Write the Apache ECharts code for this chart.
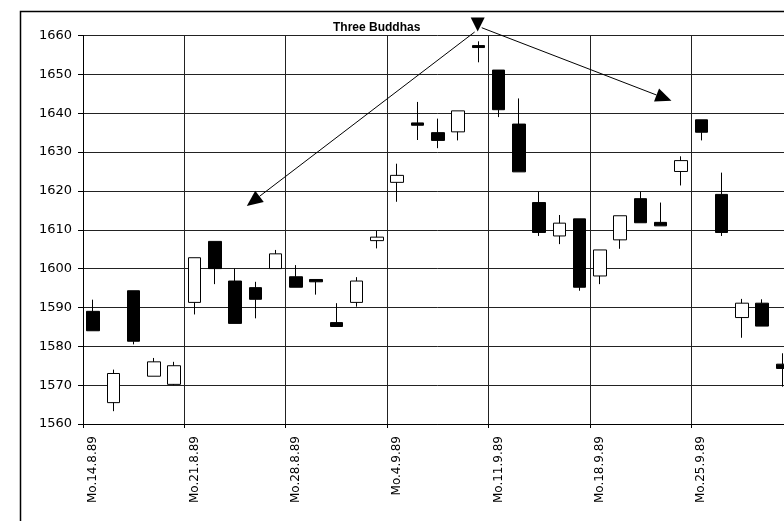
<!DOCTYPE html>
<html>
<head>
<meta charset="utf-8">
<script src="https://cdn.jsdelivr.net/npm/echarts@6/dist/echarts.min.js"></script>
<style>
html,body{margin:0;padding:0;background:#fff;overflow:hidden;width:784px;height:521px;}
#chart{width:800px;height:521px;}
</style>
</head>
<body>
<div id="chart"></div>
<script>
// Trading days (Mon–Fri), 14.8.89 – 29.9.89
const categories = [
  'Mo.14.8.89','Di.15.8.89','Mi.16.8.89','Do.17.8.89','Fr.18.8.89',
  'Mo.21.8.89','Di.22.8.89','Mi.23.8.89','Do.24.8.89','Fr.25.8.89',
  'Mo.28.8.89','Di.29.8.89','Mi.30.8.89','Do.31.8.89','Fr.1.9.89',
  'Mo.4.9.89','Di.5.9.89','Mi.6.9.89','Do.7.9.89','Fr.8.9.89',
  'Mo.11.9.89','Di.12.9.89','Mi.13.9.89','Do.14.9.89','Fr.15.9.89',
  'Mo.18.9.89','Di.19.9.89','Mi.20.9.89','Do.21.9.89','Fr.22.9.89',
  'Mo.25.9.89','Di.26.9.89','Mi.27.9.89','Do.28.9.89','Fr.29.9.89'
];
const opens  = [1589,1565.5,1594.3,1572.3,1570.2, 1591.3,1607,1596.8,1595.1,1600, 1597.9,1597.2,1586.1,1591.3,1607.2, 1622.2,1637.5,1635,1635.2,1657.4, 1651.1,1637.2,1617,1608.4,1612.8, 1598.1,1607.4,1618,1611.9,1625, 1638.3,1619.1,1587.4,1591.1,1575.4];
const closes = [1584,1573,1581.3,1576,1575, 1602.8,1600,1585.9,1592.1,1603.8, 1595.2,1596.6,1585.1,1596.8,1608.1, 1624,1636.9,1633,1640.6,1656.9, 1640.9,1624.9,1609.3,1611.7,1595.2, 1604.8,1613.6,1611.8,1611,1627.8, 1635.1,1609.3,1591.1,1585.2,1574.3];
const lows   = [1584,1563.3,1580.5,1572.3,1570, 1588.2,1596,1585.9,1587.2,1600, 1595.2,1593.3,1585.1,1590.2,1605.2, 1617.2,1633.1,1631,1633,1653.1, 1639,1624.9,1608.4,1606.3,1594.3, 1596,1605.1,1611.8,1611,1621.4, 1633,1608.4,1582.2,1585.2,1569.6];
const highs  = [1592,1574,1594.3,1577,1576, 1602.8,1607,1600,1596.6,1604.8, 1600.9,1597.2,1591.1,1597.8,1609.7, 1627,1642.9,1638.6,1640.6,1658.5, 1651.1,1643.8,1619.8,1613.8,1612.8, 1604.8,1613.6,1619.8,1617,1628.9, 1638.3,1624.7,1592.2,1592.1,1578.2];

const yMin = 1560, yMax = 1660, yStep = 10;
const titleText = 'Three Buddhas';

// Annotation arrows (x in trading-day units from the first day boundary, y in index points)
const apex = [19.47, 1662.8];
const arrowFrom = [[19.32, 1660.9], [19.67, 1662.0]];
const arrowTo   = [[8.08, 1616.1],  [29.03, 1643.2]];

const candleData = categories.map((c, i) => [opens[i], closes[i], lows[i], highs[i]]);

const chart = echarts.init(document.getElementById('chart'), null, {renderer: 'canvas'});
const FONT = 'DejaVu Sans';
chart.setOption({
  backgroundColor: '#fff',
  animation: false,
  title: {
    text: titleText,
    left: 328, top: 17,
    textStyle: {fontFamily: 'Liberation Sans', fontSize: 12, fontWeight: 'bold', color: '#000'}
  },
  grid: {left: 83, top: 35.5, right: 7.5, height: 388.5, containLabel: false},
  xAxis: [{
    type: 'category',
    data: categories,
    boundaryGap: true,
    axisLine: {show: true, lineStyle: {color: '#000', width: 1}},
    axisTick: {show: true, interval: 4, length: 4, lineStyle: {color: '#000'}},
    axisLabel: {interval: 4, rotate: 90, margin: 12, fontFamily: FONT, fontSize: 12, color: '#000'},
    splitLine: {show: true, interval: 4, lineStyle: {color: '#222', width: 1}}
  }, {
    type: 'value', min: 0, max: categories.length, show: false
  }],
  yAxis: {
    type: 'value', min: yMin, max: yMax, interval: yStep,
    axisLine: {show: true, lineStyle: {color: '#000', width: 1}},
    axisTick: {show: true, length: 5, lineStyle: {color: '#000'}},
    axisLabel: {margin: 11, fontFamily: FONT, fontSize: 13, color: '#000', formatter: v => String(v)},
    splitLine: {show: true, lineStyle: {color: '#222', width: 1}}
  },
  series: [{
    type: 'candlestick',
    data: candleData,
    barWidth: 13,
    itemStyle: {color: '#fff', color0: '#000', borderColor: '#000', borderColor0: '#000', borderWidth: 1}
  }]
});

function px(pt) { return chart.convertToPixel({xAxisIndex: 1, yAxisIndex: 0}, pt); }
const graphics = [{
  type: 'rect', silent: true,
  shape: {x: 20.5, y: 11.5, width: 800, height: 600},
  style: {fill: 'none', stroke: '#000', lineWidth: 1.5}
}];
for (let k = 0; k < arrowFrom.length; k++) {
  const a = px(arrowFrom[k]), b = px(arrowTo[k]);
  const dx = b[0] - a[0], dy = b[1] - a[1], len = Math.hypot(dx, dy);
  const ux = dx / len, uy = dy / len, nx = -uy, ny = ux;
  const L = 16, W = 7;
  const bx = b[0] - ux * L, by = b[1] - uy * L;
  graphics.push({type: 'line', silent: true, z: 100,
    shape: {x1: a[0], y1: a[1], x2: bx, y2: by},
    style: {stroke: '#000', lineWidth: 1}});
  graphics.push({type: 'polygon', silent: true, z: 100,
    shape: {points: [[b[0], b[1]], [bx + nx * W, by + ny * W], [bx - nx * W, by - ny * W]]},
    style: {fill: '#000'}});
}
const c = px(apex);
graphics.push({type: 'polygon', silent: true, z: 100,
  shape: {points: [[c[0] - 7, c[1] - 7], [c[0] + 7, c[1] - 7], [c[0], c[1] + 7]]},
  style: {fill: '#000'}});
chart.setOption({graphic: graphics});
</script>
</body>
</html>
